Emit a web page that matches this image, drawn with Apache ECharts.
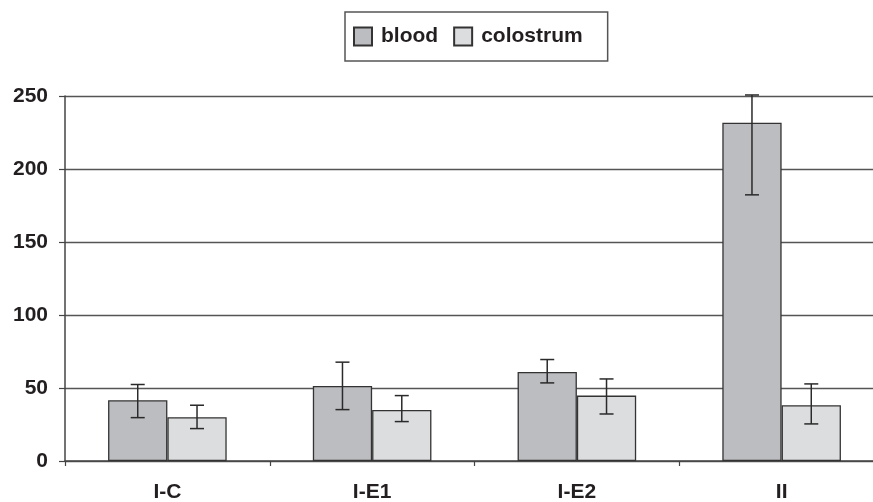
<!DOCTYPE html>
<html>
<head>
<meta charset="utf-8">
<script src="https://cdn.jsdelivr.net/npm/echarts@6/dist/echarts.min.js"></script>
<style>
html,body{margin:0;padding:0;background:#fff;}
#chart{width:873px;height:502px;}
</style>
</head>
<body>
<div id="chart"></div>
<script>
var categories = ['I-C', 'I-E1', 'I-E2', 'II'];
var seriesNames = ['blood', 'colostrum'];
var blood = [41.6, 51.4, 61, 231.7];
var bloodErrHigh = [52.4, 67.7, 69.5, 250.7];
var bloodErrLow = [29.7, 35.2, 53.5, 182.3];
var colostrum = [30, 35, 44.8, 38.2];
var colostrumErrHigh = [38.2, 44.8, 56.2, 52.8];
var colostrumErrLow = [22.2, 27, 32.2, 25.4];
var yTicks = [0, 50, 100, 150, 200, 250];

var BAR_W = 59.3;
var FONT = 'Liberation Sans, Arial, Helvetica, sans-serif';

function errSeries(low, high, sign) {
  var data = categories.map(function (c, i) { return [i, low[i], high[i]]; });
  return {
    type: 'custom',
    z: 10,
    silent: true,
    clip: false,
    data: data,
    encode: { x: 0, y: [1, 2] },
    renderItem: function (params, api) {
      var i = api.value(0);
      var pLow = api.coord([i, api.value(1)]);
      var pHigh = api.coord([i, api.value(2)]);
      var x = pLow[0] + sign * BAR_W / 2;
      var cap = 7;
      var style = { stroke: '#2a2a2a', lineWidth: 1.5 };
      return {
        type: 'group',
        children: [
          { type: 'line', shape: { x1: x, y1: pHigh[1], x2: x, y2: pLow[1] }, style: style },
          { type: 'line', shape: { x1: x - cap, y1: pHigh[1], x2: x + cap, y2: pHigh[1] }, style: style },
          { type: 'line', shape: { x1: x - cap, y1: pLow[1], x2: x + cap, y2: pLow[1] }, style: style }
        ]
      };
    }
  };
}

var chart = echarts.init(document.getElementById('chart'));
chart.setOption({
  animation: false,
  backgroundColor: '#fff',
  legend: {
    data: seriesNames,
    left: 345,
    top: 12,
    padding: [14, 25, 14, 8],
    itemWidth: 18,
    itemHeight: 18,
    itemGap: 15,
    borderColor: '#555',
    borderWidth: 1.5,
    icon: 'rect',
    textStyle: { fontFamily: FONT, fontSize: 21, fontWeight: 'bold', color: '#231f20', padding: [0, 0, 0, 4] }
  },
  grid: { left: 65, width: 819, top: 96, bottom: 41, containLabel: false, outerBoundsMode: 'none' },
  xAxis: {
    type: 'category',
    data: categories,
    axisLine: { lineStyle: { color: '#444', width: 1.5 } },
    axisTick: { show: true, length: 5, lineStyle: { color: '#444', width: 1.2 } },
    axisLabel: { fontFamily: FONT, fontSize: 21, fontWeight: 'bold', color: '#231f20', margin: 21 },
    splitLine: { show: false }
  },
  yAxis: {
    type: 'value',
    min: 0,
    max: yTicks[yTicks.length - 1],
    interval: yTicks[1] - yTicks[0],
    axisLine: { show: true, lineStyle: { color: '#444', width: 1.5 } },
    axisTick: { show: true, length: 6, lineStyle: { color: '#444', width: 1.2 } },
    axisLabel: { fontFamily: FONT, fontSize: 21, fontWeight: 'bold', color: '#231f20', margin: 17 },
    splitLine: { show: true, lineStyle: { color: '#555', width: 1.3 } }
  },
  series: [
    {
      name: seriesNames[0],
      type: 'bar',
      data: blood,
      barWidth: BAR_W,
      barGap: '0%',
      itemStyle: { color: '#bcbdc1', borderColor: '#333', borderWidth: 1.3 }
    },
    {
      name: seriesNames[1],
      type: 'bar',
      data: colostrum,
      barWidth: BAR_W,
      barGap: '0%',
      itemStyle: { color: '#dcdddf', borderColor: '#333', borderWidth: 1.3 }
    },
    errSeries(bloodErrLow, bloodErrHigh, -1),
    errSeries(colostrumErrLow, colostrumErrHigh, 1)
  ]
});
</script>
</body>
</html>
